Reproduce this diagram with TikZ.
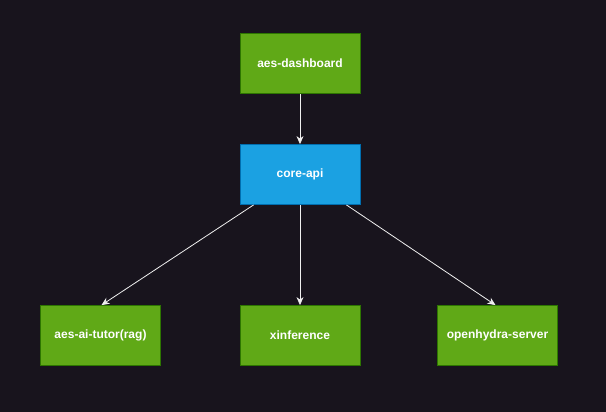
\documentclass[tikz,border=0pt]{standalone}
\usepackage{fontspec}
\setmainfont{Liberation Sans}
\usetikzlibrary{arrows.meta}
\definecolor{bg}{HTML}{18141D}
\definecolor{gfill}{HTML}{60A917}
\definecolor{gline}{HTML}{2D7600}
\definecolor{bfill}{HTML}{1BA1E2}
\definecolor{bline}{HTML}{006EAF}
\definecolor{edgec}{HTML}{F0F0F0}
\tikzset{
  box/.style={draw, line width=0.8pt, minimum width=120pt, minimum height=60pt, inner sep=0pt,
    text=white, font=\fontsize{12pt}{14pt}\selectfont\bfseries},
  gbox/.style={box, fill=gfill, draw=gline},
  bbox/.style={box, fill=bfill, draw=bline},
  conn/.style={draw=edgec, line width=0.8pt, -{Stealth[length=8pt,width=7pt,inset=2.5pt,fill=edgec]}}
}
\begin{document}
\begin{tikzpicture}[x=1pt,y=-1pt]
\fill[bg] (0,0) rectangle (606,412);
\useasboundingbox (0,0) rectangle (606,412);
\node[gbox] (dash) at (300,63.5) {aes-dashboard};
\node[bbox] (core) at (300,174.5) {core-api};
\node[gbox] (tutor) at (100.5,335.5) {aes-ai-tutor(rag)};
\node[gbox] (xinf) at (300,335.5) {xinference};
\node[gbox] (ohs) at (497.5,335.5) {openhydra-server};
\coordinate (cl) at ([xshift=14pt]core.south west);
\coordinate (cr) at ([xshift=-14pt]core.south east);
\draw[conn] (dash.south) -- (core.north);
\draw[conn] (core.south) -- (xinf.north);
\draw[conn] (cl) -- ([xshift=1pt]tutor.north);
\draw[conn] (cr) -- ([xshift=-2pt]ohs.north);
\end{tikzpicture}
\end{document}
